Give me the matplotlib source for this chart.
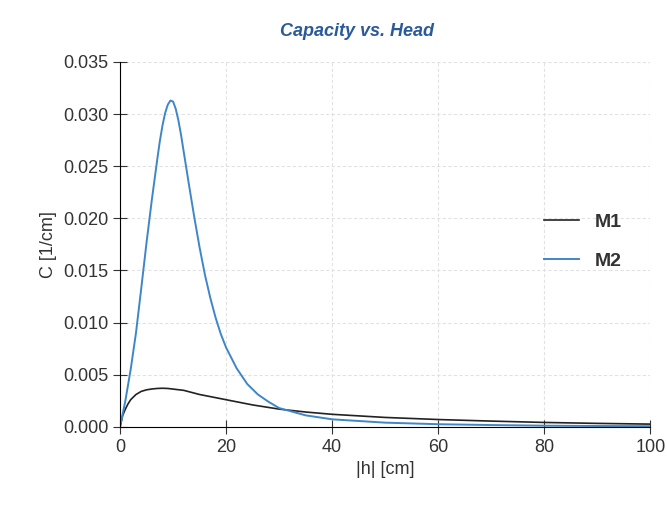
import matplotlib
matplotlib.use("Agg")
import matplotlib.pyplot as plt

h_m1 = [0, 0.5, 1, 1.5, 2, 3, 4, 5, 6, 7, 8, 9, 10, 12, 15, 20, 25, 30, 35, 40, 50, 60, 70, 80, 90, 100]
c_m1 = [0, 0.0011, 0.0017, 0.0022, 0.0026, 0.0031, 0.0034, 0.00355, 0.00363, 0.00368, 0.0037, 0.00368, 0.00362, 0.0035, 0.0031, 0.0026, 0.0021, 0.0017, 0.00142, 0.0012, 0.0009, 0.0007, 0.00055, 0.00042, 0.00033, 0.00026]
h_m2 = [0, 1, 2, 3, 4, 5, 6, 7, 7.5, 8, 8.5, 9, 9.5, 10, 10.5, 11, 11.5, 12, 13, 14, 15, 16, 17, 18, 19, 20, 22, 24, 26, 28, 30, 35, 40, 50, 60, 70, 80, 90, 100]
c_m2 = [0, 0.0025, 0.0055, 0.009, 0.0133, 0.0177, 0.0218, 0.0256, 0.0274, 0.0289, 0.0301, 0.0309, 0.0313, 0.0312, 0.0305, 0.0294, 0.028, 0.0264, 0.0232, 0.0201, 0.0172, 0.0146, 0.0124, 0.0105, 0.0089, 0.0076, 0.0056, 0.0041, 0.0031, 0.0024, 0.0018, 0.0011, 0.00072, 0.0004, 0.00025, 0.00017, 0.00011, 0.00008, 0.00006]

xticks = [0, 20, 40, 60, 80, 100]
yticks = [0.000, 0.005, 0.010, 0.015, 0.020, 0.025, 0.030, 0.035]

plt.rcParams["font.family"] = ["Liberation Sans", "DejaVu Sans"]
fig = plt.figure(figsize=(6.67, 5.25), dpi=100)
ax = fig.add_axes([0.18, 0.187, 0.795, 0.695])
l1, = ax.plot(h_m1, c_m1, color="#222222", lw=1.2, label="M1")
l2, = ax.plot(h_m2, c_m2, color="#3f86c8", lw=1.4, label="M2")
ax.set_xlim(0, 100)
ax.set_ylim(0, 0.035)
ax.set_xticks(xticks)
ax.set_yticks(yticks)
ax.set_yticklabels([f"{v:.3f}" for v in yticks])
ax.grid(True, color="#e2e2e2", linestyle=(0, (3, 2)), lw=0.8)
for s in ["top", "right"]:
    ax.spines[s].set_visible(False)
ax.tick_params(direction="inout", length=10, labelsize=13, colors="#333333")
ax.set_xlabel("|h| [cm]", fontsize=13, color="#333333")
ax.set_ylabel("C [1/cm]", fontsize=13, color="#333333")
fig.text(0.535, 0.94, "Capacity vs. Head", fontsize=13, color="#2a5a9a", style="italic",
         fontweight="bold", ha="center", va="center")
leg = fig.legend(handles=[l1, l2], loc="center left", bbox_to_anchor=(0.79, 0.54), frameon=False,
                 prop={"weight": "bold", "size": 14}, handlelength=1.8, labelspacing=1.1)
for t in leg.get_texts():
    t.set_color("#333333")
fig.savefig("out.png", dpi=100)
